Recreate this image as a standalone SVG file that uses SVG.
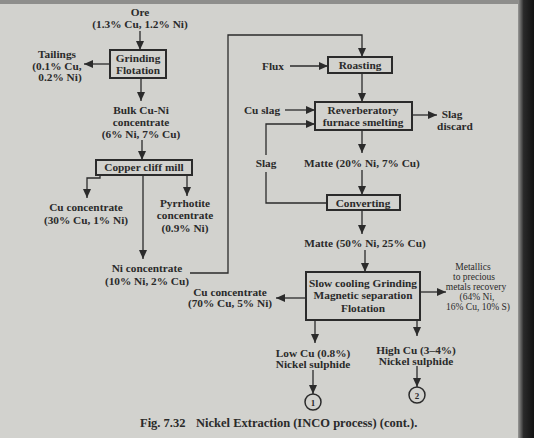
<svg xmlns="http://www.w3.org/2000/svg" width="534" height="438" viewBox="0 0 534 438">
<defs>
<marker id="ah" markerUnits="userSpaceOnUse" markerWidth="9" markerHeight="8" refX="9" refY="4" orient="auto">
<path d="M0,0 L9,4 L0,8 z" fill="#2b2b2b"/>
</marker>
<linearGradient id="edge" x1="0" x2="1" y1="0" y2="0">
<stop offset="0" stop-color="#9a9a98"/>
<stop offset="0.35" stop-color="#2a2a2a"/>
<stop offset="1" stop-color="#111"/>
</linearGradient>
</defs>
<style>
text{font-family:"Liberation Serif","Times New Roman",serif;font-size:11.3px;font-weight:bold;fill:#2a2a2a;text-anchor:middle}
.sm{font-size:9.5px;font-weight:normal}
.cap{font-size:12.5px;text-anchor:start}
.box{fill:none;stroke:#2b2b2b;stroke-width:2}
.c{fill:none;stroke:#2b2b2b;stroke-width:1.3}
.a{marker-end:url(#ah)}
</style>
<rect width="534" height="438" fill="#d2d2ce"/>
<rect x="0" y="0" width="534" height="4" fill="#8e8e8c"/>
<rect x="518" y="0" width="16" height="438" fill="url(#edge)"/>

<g id="connectors">
<path class="c a" d="M140,31 V50"/>
<path class="c a" d="M110,64 H84"/>
<path class="c a" d="M141,78 V101"/>
<path class="c a" d="M142,140 V160"/>
<path class="c a" d="M100,175 V178 H87 V198"/>
<path class="c a" d="M187,175 V196"/>
<path class="c a" d="M143,175 V259"/>
<path class="c a" d="M190,273 H228 V35 H362 V57"/>
<path class="c a" d="M290,66 H328"/>
<path class="c a" d="M362,73 V102"/>
<path class="c a" d="M285,110 H315"/>
<path class="c a" d="M412,115 H437"/>
<path class="c a" d="M362,130 V153"/>
<path class="c a" d="M362,170 V195"/>
<path class="c a" d="M327,203 H266 V172 M266,155 V124 H315"/>
<path class="c a" d="M362,210 V234"/>
<path class="c a" d="M365,250 V272"/>
<path class="c a" d="M306,298 H276"/>
<path class="c a" d="M420,292 H446"/>
<path class="c a" d="M315,320 V343"/>
<path class="c a" d="M417,320 V336"/>
<path class="c a" d="M313,370 V394"/>
<path class="c a" d="M417,366 V387"/>
</g>

<g id="ore">
<text x="140" y="16">Ore</text>
<text x="140" y="28">(1.3% Cu, 1.2% Ni)</text>
</g>
<g id="grinding">
<rect class="box" x="110" y="50" width="56" height="28"/>
<text x="138" y="62">Grinding</text>
<text x="138" y="74">Flotation</text>
</g>
<g id="tailings">
<text x="57" y="58">Tailings</text>
<text x="57" y="70">(0.1% Cu,</text>
<text x="60" y="81">0.2% Ni)</text>
</g>
<g id="bulk">
<text x="141" y="114">Bulk Cu-Ni</text>
<text x="141" y="126">concentrate</text>
<text x="141" y="138">(6% Ni, 7% Cu)</text>
</g>
<g id="mill">
<rect class="box" x="96" y="160" width="96" height="15"/>
<text x="144" y="171">Copper cliff mill</text>
</g>
<g id="cuconc1">
<text x="86" y="211">Cu concentrate</text>
<text x="86" y="224">(30% Cu, 1% Ni)</text>
</g>
<g id="pyrrhotite">
<text x="185" y="207">Pyrrhotite</text>
<text x="185" y="219">concentrate</text>
<text x="185" y="232">(0.9% Ni)</text>
</g>
<g id="niconc">
<text x="147" y="272">Ni concentrate</text>
<text x="147" y="285">(10% Ni, 2% Cu)</text>
</g>
<g id="flux">
<text x="273" y="70">Flux</text>
</g>
<g id="roasting">
<rect class="box" x="328" y="57" width="64" height="16"/>
<text x="360" y="69">Roasting</text>
</g>
<g id="cuslag">
<text x="262" y="114">Cu slag</text>
</g>
<g id="reverberatory">
<rect class="box" x="315" y="102" width="97" height="28"/>
<text x="363" y="114">Reverberatory</text>
<text x="363" y="126">furnace smelting</text>
</g>
<g id="slagdiscard">
<text x="452" y="118">Slag</text>
<text x="455" y="130">discard</text>
</g>
<g id="matte1">
<text x="362" y="167">Matte (20% Ni, 7% Cu)</text>
</g>
<g id="slag">
<text x="266" y="167">Slag</text>
</g>
<g id="converting">
<rect class="box" x="327" y="195" width="73" height="15"/>
<text x="363" y="207">Converting</text>
</g>
<g id="matte2">
<text x="365" y="247">Matte (50% Ni, 25% Cu)</text>
</g>
<g id="slowcooling">
<rect class="box" x="306" y="272" width="114" height="48"/>
<text x="363" y="287">Slow cooling Grinding</text>
<text x="363" y="299">Magnetic separation</text>
<text x="363" y="312">Flotation</text>
</g>
<g id="cuconc2">
<text x="230" y="296">Cu concentrate</text>
<text x="230" y="307">(70% Cu, 5% Ni)</text>
</g>
<g id="metallics">
<text class="sm" x="473" y="270">Metallics</text>
<text class="sm" x="474" y="280">to precious</text>
<text class="sm" x="476" y="290">metals recovery</text>
<text class="sm" x="477" y="300">(64% Ni,</text>
<text class="sm" x="478" y="310">16% Cu, 10% S)</text>
</g>
<g id="lowcu">
<text x="313" y="357">Low Cu (0.8%)</text>
<text x="313" y="368">Nickel sulphide</text>
</g>
<g id="highcu">
<text x="416" y="354">High Cu (3–4%)</text>
<text x="416" y="365">Nickel sulphide</text>
</g>
<g id="out1">
<circle cx="313" cy="402" r="8" fill="none" stroke="#2b2b2b" stroke-width="1.5"/>
<text x="313" y="406" style="font-size:9px">1</text>
</g>
<g id="out2">
<circle cx="417" cy="395" r="8" fill="none" stroke="#2b2b2b" stroke-width="1.5"/>
<text x="417" y="399" style="font-size:9px">2</text>
</g>
<g id="caption">
<text class="cap" x="140" y="427">Fig. 7.32</text>
<text class="cap" x="196" y="427">Nickel Extraction (INCO process) (cont.).</text>
</g>
</svg>
